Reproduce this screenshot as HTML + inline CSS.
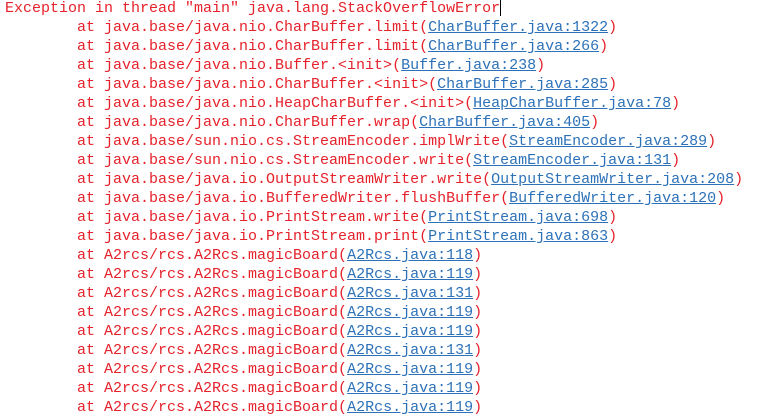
<!DOCTYPE html>
<html><head><style>
html,body{margin:0;padding:0;background:#fff;width:761px;height:401px;overflow:hidden}
pre{margin:0;position:absolute;left:5px;top:-1px;font-family:"Liberation Mono",monospace;font-size:15px;line-height:19px;color:#e5222b}
a{color:#2d72b8;text-decoration:underline}
.c{display:inline-block;width:1px;height:17px;background:#000;vertical-align:-4px}
</style></head><body><pre>Exception in thread "main" java.lang.StackOverflowError<span class="c"></span>
        at java.base/java.nio.CharBuffer.limit(<a>CharBuffer.java:1322</a>)
        at java.base/java.nio.CharBuffer.limit(<a>CharBuffer.java:266</a>)
        at java.base/java.nio.Buffer.&lt;init&gt;(<a>Buffer.java:238</a>)
        at java.base/java.nio.CharBuffer.&lt;init&gt;(<a>CharBuffer.java:285</a>)
        at java.base/java.nio.HeapCharBuffer.&lt;init&gt;(<a>HeapCharBuffer.java:78</a>)
        at java.base/java.nio.CharBuffer.wrap(<a>CharBuffer.java:405</a>)
        at java.base/sun.nio.cs.StreamEncoder.implWrite(<a>StreamEncoder.java:289</a>)
        at java.base/sun.nio.cs.StreamEncoder.write(<a>StreamEncoder.java:131</a>)
        at java.base/java.io.OutputStreamWriter.write(<a>OutputStreamWriter.java:208</a>)
        at java.base/java.io.BufferedWriter.flushBuffer(<a>BufferedWriter.java:120</a>)
        at java.base/java.io.PrintStream.write(<a>PrintStream.java:698</a>)
        at java.base/java.io.PrintStream.print(<a>PrintStream.java:863</a>)
        at A2rcs/rcs.A2Rcs.magicBoard(<a>A2Rcs.java:118</a>)
        at A2rcs/rcs.A2Rcs.magicBoard(<a>A2Rcs.java:119</a>)
        at A2rcs/rcs.A2Rcs.magicBoard(<a>A2Rcs.java:131</a>)
        at A2rcs/rcs.A2Rcs.magicBoard(<a>A2Rcs.java:119</a>)
        at A2rcs/rcs.A2Rcs.magicBoard(<a>A2Rcs.java:119</a>)
        at A2rcs/rcs.A2Rcs.magicBoard(<a>A2Rcs.java:131</a>)
        at A2rcs/rcs.A2Rcs.magicBoard(<a>A2Rcs.java:119</a>)
        at A2rcs/rcs.A2Rcs.magicBoard(<a>A2Rcs.java:119</a>)
        at A2rcs/rcs.A2Rcs.magicBoard(<a>A2Rcs.java:119</a>)</pre></body></html>
